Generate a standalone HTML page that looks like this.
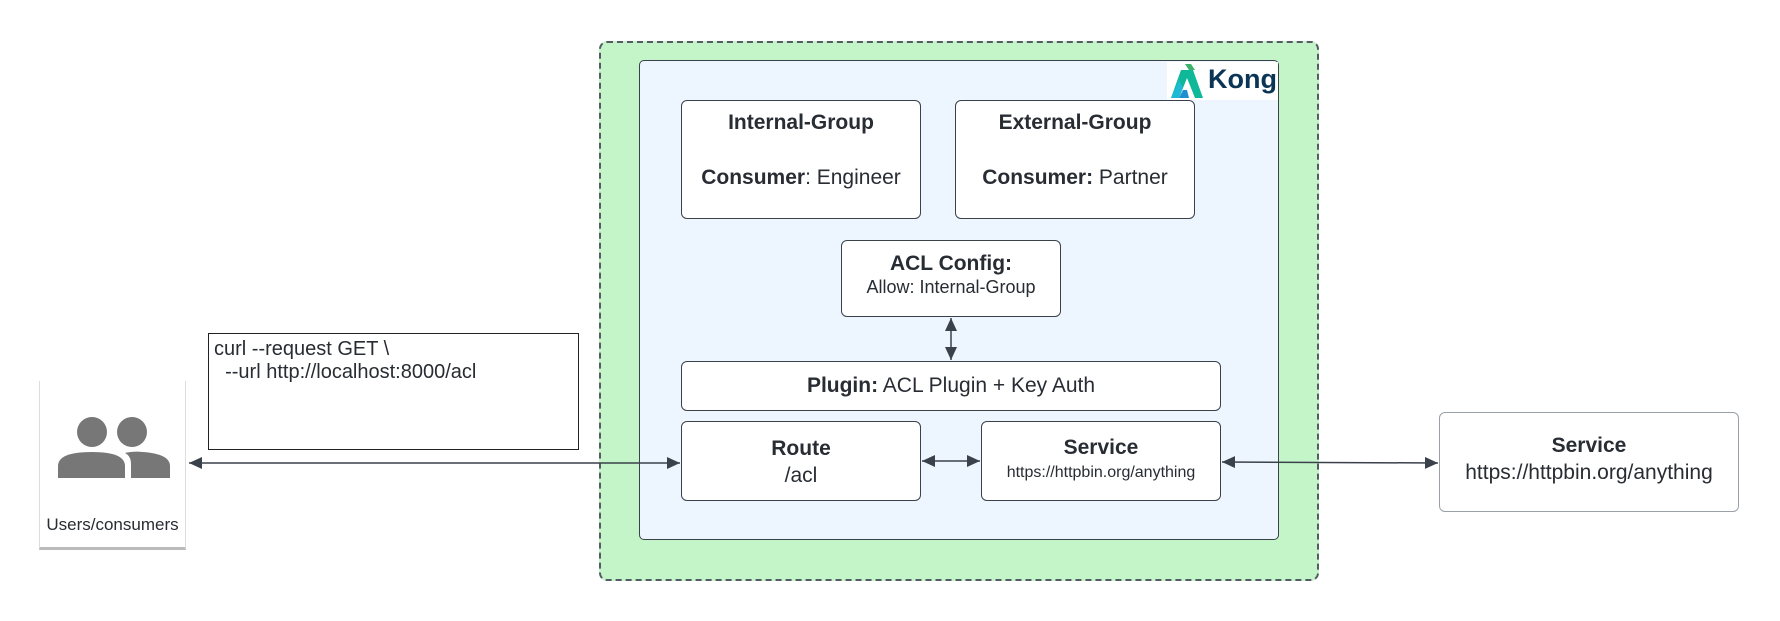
<!DOCTYPE html>
<html><head><style>
body{margin:0;width:1780px;height:621px;background:#fff;position:relative;font-family:"Liberation Sans",sans-serif;color:#282c33;overflow:hidden}
.a{position:absolute;box-sizing:border-box}
.box{background:#fff;border:1.5px solid #3a414a;border-radius:6px;text-align:center}
b{font-weight:bold}
</style></head><body>
<div class="a" style="left:599px;top:41px;width:720px;height:540px;background:#c3f5c8;border:2px dashed #545b64;border-radius:8px"></div>
<div class="a" style="left:639px;top:60px;width:640px;height:480px;background:#edf5ff;border:1.5px solid #3a414a;border-radius:5px"></div>
<div class="a" style="left:1167px;top:62px;width:111px;height:38px;background:#fff"></div>
<svg class="a" style="left:1167px;top:62px" width="40" height="38" viewBox="0 0 40 38">
<polygon points="18,2 24,2 28,8 22,8" fill="#3bb36a"/>
<polygon points="14,8 26,8 36,36 28,36 20,16 12,36 4,36" fill="#10b89a"/>
<polygon points="4,36 12,18 16,26 12,36" fill="#1fb9d4"/>
<polygon points="12,36 16,28 20,28 22,36" fill="#1d8fd0"/>
</svg>
<div class="a" style="left:1208px;top:64px;font-size:27px;font-weight:bold;color:#0b3455">Kong</div>

<div class="a box" style="left:681px;top:100px;width:240px;height:119px;font-size:21px;padding-top:10px;line-height:24px"><b>Internal-Group</b><span style="display:block;margin-top:31px"><b>Consumer</b>: Engineer</span></div>
<div class="a box" style="left:955px;top:100px;width:240px;height:119px;font-size:21px;padding-top:10px;line-height:24px"><b>External-Group</b><span style="display:block;margin-top:31px"><b>Consumer:</b> Partner</span></div>
<div class="a box" style="left:841px;top:240px;width:220px;height:77px;padding-top:10px"><div style="font-size:21px;font-weight:bold;line-height:25px">ACL Config:</div><div style="font-size:18px;line-height:22px">Allow: Internal-Group</div></div>
<div class="a box" style="left:681px;top:361px;width:540px;height:50px;font-size:21px;line-height:47px"><b>Plugin:</b> ACL Plugin + Key Auth</div>
<div class="a box" style="left:681px;top:421px;width:240px;height:80px;padding-top:13px;font-size:21px;line-height:27px"><b>Route</b><br>/acl</div>
<div class="a box" style="left:981px;top:421px;width:240px;height:80px;padding-top:13px"><div style="font-size:21px;font-weight:bold;line-height:26px">Service</div><div style="font-size:16px;line-height:24px">https://httpbin.org/anything</div></div>
<div class="a box" style="left:1439px;top:412px;width:300px;height:100px;border-color:#9aa0a8;padding-top:20px"><div style="font-size:21px;font-weight:bold;line-height:26px">Service</div><div style="font-size:21px;line-height:28px">https://httpbin.org/anything</div></div>

<div class="a" style="left:208px;top:333px;width:371px;height:117px;border:1.5px solid #222;background:#fff;font-size:20px;line-height:23px;padding:4px 5px;white-space:pre">curl --request GET \
  --url http://localhost:8000/acl</div>

<div class="a" style="left:39px;top:381px;width:147px;height:169px;background:#fff;border-left:1px solid #ddd;border-right:1px solid #ddd;border-bottom:3px solid #bbb"></div>
<svg class="a" style="left:55px;top:410px" width="120" height="70">
<circle cx="37" cy="22" r="15" fill="#777"/><circle cx="77" cy="22" r="15" fill="#777"/>
<path d="M3,68 V56 Q3,42 37,42 Q70,42 70,56 V68 Z" fill="#777"/>
<path d="M76,68 V54 Q76,46 70,43 Q78,41 88,42 Q115,44 115,56 V68 Z" fill="#777"/>
</svg>
<div class="a" style="left:39px;top:515px;width:147px;text-align:center;font-size:17px">Users/consumers</div>

<svg class="a" style="left:0;top:0" width="1780" height="621">
<defs><marker id="m" markerWidth="14" markerHeight="14" refX="13" refY="6" orient="auto-start-reverse" markerUnits="userSpaceOnUse"><path d="M0,0 L13,6 L0,12 Z" fill="#3a414a"/></marker></defs>
<g stroke="#3a414a" stroke-width="1.5" fill="none">
<line x1="189" y1="463" x2="680" y2="463" marker-start="url(#m)" marker-end="url(#m)"/>
<line x1="922" y1="461" x2="980" y2="461" marker-start="url(#m)" marker-end="url(#m)"/>
<line x1="1222" y1="462" x2="1438" y2="463" marker-start="url(#m)" marker-end="url(#m)"/>
<line x1="951" y1="318" x2="951" y2="360" marker-start="url(#m)" marker-end="url(#m)"/>
</g></svg>
</body></html>
